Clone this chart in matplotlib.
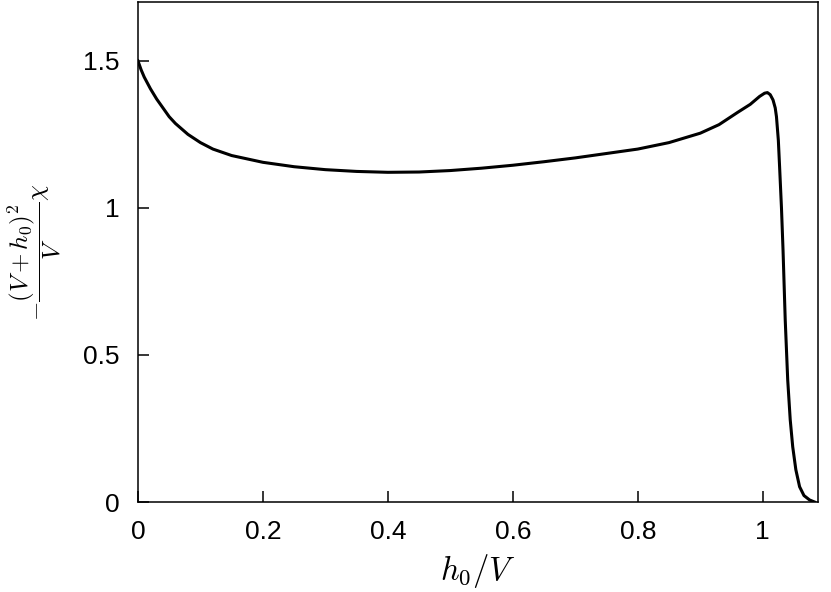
import numpy as np
import matplotlib.pyplot as plt

# curve
h0 = [0.0, 0.005, 0.01, 0.02, 0.03, 0.04, 0.05, 0.06, 0.08, 0.1, 0.12, 0.15,
      0.2, 0.25, 0.3, 0.35, 0.4, 0.45, 0.5, 0.55, 0.6, 0.65, 0.7, 0.75, 0.8,
      0.85, 0.9, 0.93, 0.96, 0.98, 0.995, 1.003, 1.0075, 1.012, 1.0165, 1.02,
      1.022, 1.025, 1.027, 1.03, 1.0325, 1.036, 1.04, 1.044, 1.048, 1.053,
      1.059, 1.066, 1.075, 1.083]
chi = [1.5, 1.47, 1.445, 1.405, 1.37, 1.34, 1.31, 1.287, 1.25, 1.222, 1.2, 1.178,
       1.155, 1.14, 1.13, 1.124, 1.121, 1.122, 1.127, 1.135, 1.145, 1.157, 1.17,
       1.185, 1.2, 1.222, 1.254, 1.283, 1.325, 1.352, 1.379, 1.39, 1.392, 1.385,
       1.367, 1.34, 1.31, 1.23, 1.14, 1.0, 0.857, 0.62, 0.415, 0.28, 0.188, 0.11,
       0.052, 0.022, 0.007, 0.0]

xticks = [0, 0.2, 0.4, 0.6, 0.8, 1]
xticklabels = ['0', '0.2', '0.4', '0.6', '0.8', '1']
yticks = [0, 0.5, 1, 1.5]
yticklabels = ['0', '0.5', '1', '1.5']

plt.rcParams['mathtext.fontset'] = 'cm'
plt.rcParams['font.family'] = 'Liberation Sans'

fig = plt.figure(figsize=(8.31, 5.92), dpi=100)
ax = fig.add_axes([0.166, 0.152, 0.818, 0.8446])
ax.plot(h0, chi, color='black', lw=2.2)
ax.set_xlim(0, 1.088)
ax.set_ylim(0, 1.7)
ax.set_xticks(xticks)
ax.set_xticklabels(xticklabels)
ax.set_yticks(yticks)
ax.set_yticklabels(yticklabels)
ax.tick_params(direction='in', length=8, width=1.1, labelsize=19, pad=13,
               top=False, right=False)
for s in ax.spines.values():
    s.set_linewidth(1.1)
ax.set_xlabel(r'$h_0/V$', fontsize=23.5)
ax.xaxis.set_label_coords(0.5, -0.1)
ax.set_ylabel(r'$-\dfrac{(V+h_0)^2}{V}\chi$', fontsize=18)
ax.yaxis.set_label_coords(-0.11, 0.5)
fig.savefig('out.png')
